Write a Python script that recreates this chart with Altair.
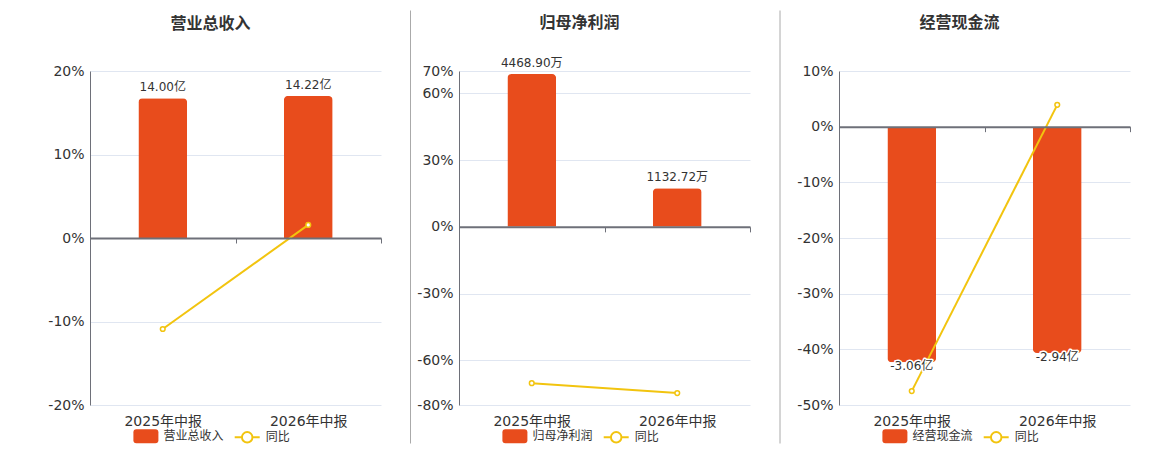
import altair as alt
import pandas as pd

categories = ["2025年中报", "2026年中报"]
titles = ["营业总收入", "归母净利润", "经营现金流"]
units = ["亿", "万", "亿"]
rev_values = [14.00, 14.22]
rev_yoy = [-10.9, 1.57]
profit_values = [4468.90, 1132.72]
profit_yoy = [-70.2, -74.65]
cash_values = [-3.06, -2.94]
cash_yoy = [-47.5, 3.92]
yoy_name = "同比"

pct_domains = [[-20, 20], [-80, 70], [-50, 10]]
pct_ticks = [[-20, -10, 0, 10, 20], [-80, -60, -30, 0, 30, 60, 70],
             [-50, -40, -30, -20, -10, 0, 10]]
bar_domains = [[-16.72, 16.72], [-5211, 4560], [-3.617, 0.7235]]

bar_values = [rev_values, profit_values, cash_values]
yoy_values = [rev_yoy, profit_yoy, cash_yoy]

BAR = "#E84C1C"
LINE = "#F2C40F"
AXIS = "#6E7079"
TXT = "#333333"
FONT = "DejaVu Sans, Noto Sans CJK SC"
W, H = 291, 334
SEP_X = [120, -48.5, -59]
SEP_OPACITY = [0, 1, 1]

RECT_PATH = ("M-0.76,-0.56 L0.76,-0.56 Q1,-0.56 1,-0.32 L1,0.32 Q1,0.56 0.76,0.56 "
             "L-0.76,0.56 Q-1,0.56 -1,0.32 L-1,-0.32 Q-1,-0.56 -0.76,-0.56 Z")
LINE_PATH = ("M-1,0 L-0.42,0 M0.42,0 L1,0 M0.42,0 A0.42,0.42 0 1 1 -0.42,0 "
             "A0.42,0.42 0 1 1 0.42,0 Z")


def panel(i):
    vals = bar_values[i]
    df = pd.DataFrame({
        "cat": categories,
        "val": vals,
        "yoy": yoy_values[i],
        "label": [f"{v:.2f}{units[i]}" for v in vals],
        "series": titles[i],
        "yseries": yoy_name,
    })
    lo, hi = pct_domains[i]
    zero_from_bottom = H * (0 - lo) / (hi - lo)
    negative = vals[0] < 0
    base = alt.Chart(df)

    x = alt.X(
        "cat:N", sort=categories, title=None,
        scale=alt.Scale(paddingInner=0, paddingOuter=0),
        axis=alt.Axis(
            orient="bottom", offset=-zero_from_bottom, domainColor=AXIS, domainWidth=2,
            tickColor=AXIS, tickSize=5, tickBand="extent",
            labelPadding=zero_from_bottom + 4, labelFontSize=14, labelColor=TXT,
            labelFont=FONT, labelAngle=0, zindex=1, grid=False,
        ),
    )
    bary = alt.Y("val:Q", scale=alt.Scale(domain=bar_domains[i], nice=False, zero=False), axis=None)
    pcty_scale = alt.Scale(domain=pct_domains[i], nice=False, zero=False)

    if negative:
        bar_mark = base.mark_bar(width=alt.RelativeBandSize(0.335),
                                 cornerRadiusBottomLeft=4, cornerRadiusBottomRight=4)
    else:
        bar_mark = base.mark_bar(width=alt.RelativeBandSize(0.335),
                                 cornerRadiusTopLeft=4, cornerRadiusTopRight=4)
    bars = bar_mark.encode(
        x=x, y=bary,
        fill=alt.Fill("series:N", scale=alt.Scale(domain=[titles[i]], range=[BAR]),
                      legend=alt.Legend(orient="none", legendX=43.4, legendY=352.8, title=None,
                                        symbolType=RECT_PATH, symbolSize=625, symbolStrokeWidth=0,
                                        labelFont=FONT, labelFontSize=12, labelColor=TXT,
                                        labelOffset=5, padding=0)),
    )

    line = base.mark_line(strokeWidth=2).encode(
        x=x,
        y=alt.Y("yoy:Q", scale=pcty_scale, title=None,
                axis=alt.Axis(values=pct_ticks[i], labelExpr="datum.value + '%'", grid=True,
                              gridColor="#E0E6F1", domain=True, domainColor=AXIS, ticks=False,
                              labelPadding=6, labelFontSize=14, labelColor=TXT, labelFont=FONT)),
        stroke=alt.Stroke("yseries:N", scale=alt.Scale(domain=[yoy_name], range=[LINE]),
                          legend=alt.Legend(orient="none", legendX=143.7, legendY=352.8, title=None,
                                            symbolType=LINE_PATH, symbolSize=625, symbolStrokeWidth=2,
                                            symbolFillColor="white",
                                            labelFont=FONT, labelFontSize=12, labelColor=TXT,
                                            labelOffset=5, padding=0)),
    )
    points = base.mark_point(shape="circle", filled=True, fill="white", stroke=LINE,
                             strokeWidth=1.5, size=22, opacity=1).encode(
        x=x, y=alt.Y("yoy:Q", scale=pcty_scale, axis=None),
    )
    dy = 4 if negative else -11
    halo = base.mark_text(fontSize=12, font=FONT, baseline="middle", dy=dy, color="white",
                          stroke="white", strokeWidth=3, strokeJoin="round").encode(
        x=x, y=bary, text="label:N")
    text = base.mark_text(fontSize=12, font=FONT, baseline="middle", dy=dy, color=TXT).encode(
        x=x, y=bary, text="label:N")

    sep = alt.Chart(pd.DataFrame({"s": [0]})).mark_rule(
        color="#AAAAAA", strokeWidth=1, opacity=SEP_OPACITY[i]).encode(
        x=alt.value(SEP_X[i]), y=alt.value(-60.5), y2=alt.value(372.5))

    layers = [bars, line, points, halo, text, sep]

    return alt.layer(*layers).resolve_scale(y="independent").properties(
        width=W, height=H,
        title=alt.TitleParams(titles[i], anchor="middle", dx=-25, offset=-29,
                              baseline="middle", fontSize=16, fontWeight="bold", color=TXT, font=FONT),
    )


chart = alt.hconcat(panel(0), panel(1), panel(2), spacing=28).resolve_scale(
    fill="independent", stroke="independent"
).resolve_legend(
    fill="independent", stroke="independent"
).properties(
    padding={"left": 39, "top": 2, "right": 5, "bottom": 5}
).configure_view(stroke=None)

chart.save("out.html", embed_options={"renderer": "svg", "actions": False})
